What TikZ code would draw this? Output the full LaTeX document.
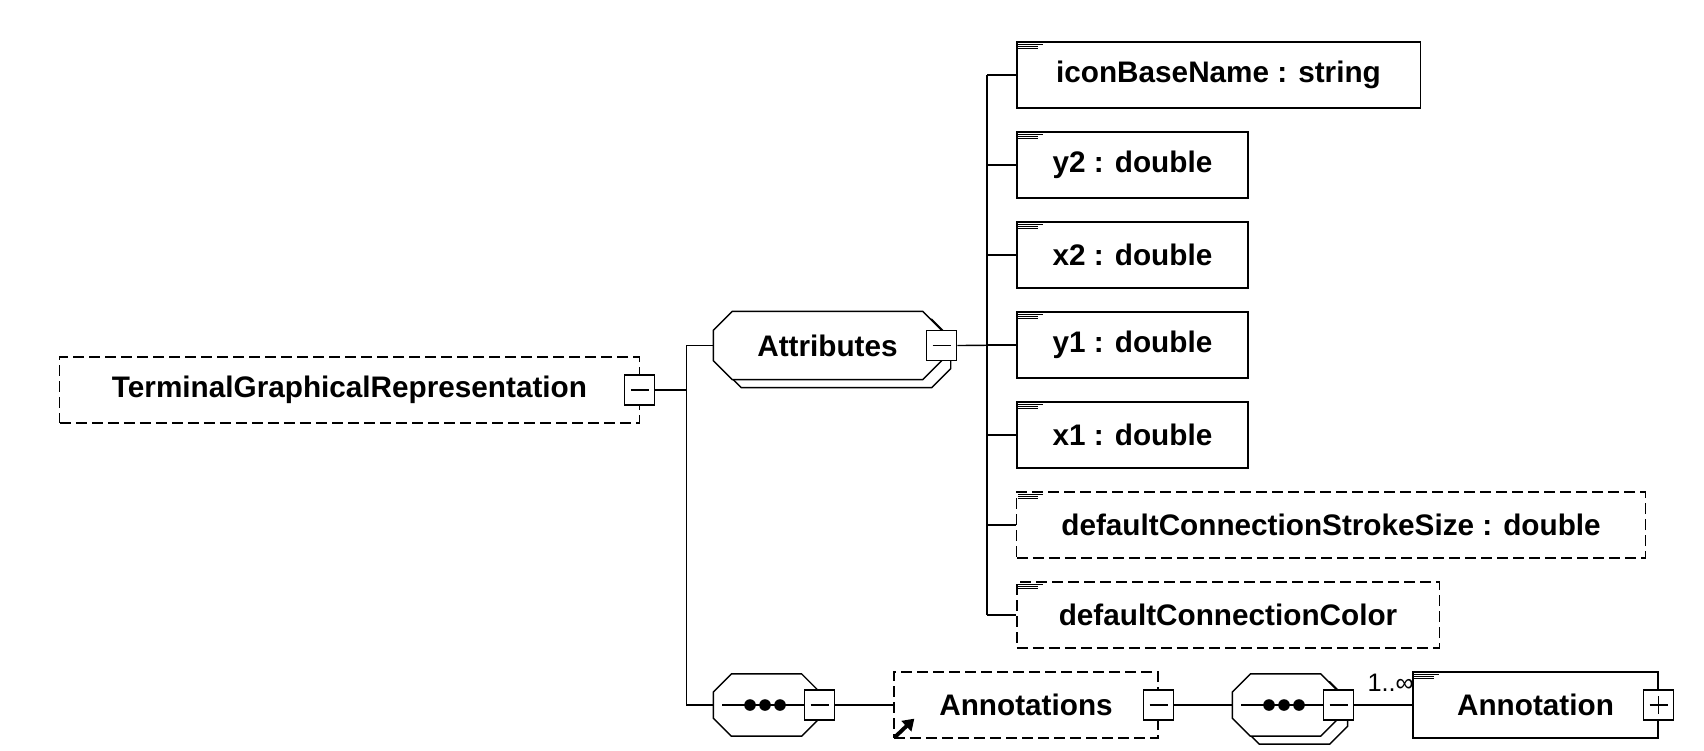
\documentclass[tikz,border=0pt]{standalone}
\usepackage{fontspec}
\setmainfont{Liberation Sans}
\usetikzlibrary{backgrounds,arrows.meta}

\newcommand\lblfont{\fontsize{8.45pt}{10pt}\selectfont\bfseries}
% octagon round a node: {node}{chamfer}{x offset}{y offset}
\newcommand\octa[4]{%
 \draw[fill=white] ([shift={(#3+#2,#4)}]#1.north west) -- ([shift={(#3-#2,#4)}]#1.north east)
  -- ([shift={(#3,#4-#2)}]#1.north east) -- ([shift={(#3,#4+#2)}]#1.south east)
  -- ([shift={(#3-#2,#4)}]#1.south east) -- ([shift={(#3+#2,#4)}]#1.south west)
  -- ([shift={(#3,#4+#2)}]#1.south west) -- ([shift={(#3,#4-#2)}]#1.north west) -- cycle;}

\begin{document}
\begin{tikzpicture}[x=0.01cm,y=-0.01cm,line width=0.35pt,
  box/.style={draw,fill=white,minimum height=0.66cm,inner sep=0pt,font=\lblfont},
  optional/.style={dash pattern=on 0.11cm off 0.05cm},
  doc/.style={path picture={
    \draw[solid,line width=0.25pt] ([shift={(0.01cm,-0.02cm)}]path picture bounding box.north west) -- ++(25,0);
    \draw[solid,line width=0.25pt] ([shift={(0.01cm,-0.04cm)}]path picture bounding box.north west) -- ++(20,0);
    \draw[solid,line width=0.25pt] ([shift={(0.01cm,-0.06cm)}]path picture bounding box.north west) -- ++(20,0);}},
  group/.style={rectangle,minimum height=0.61cm,inner sep=0pt,font=\lblfont},
  btn/.style={draw,fill=white,solid,minimum size=0.3cm,inner sep=0pt,
    path picture={\draw ([xshift=0.06cm]path picture bounding box.west) -- ([xshift=-0.06cm]path picture bounding box.east);}},
  btnplus/.style={draw,fill=white,solid,minimum size=0.3cm,inner sep=0pt,
    path picture={\draw ([xshift=0.06cm]path picture bounding box.west) -- ([xshift=-0.06cm]path picture bounding box.east);
      \draw ([yshift=0.06cm]path picture bounding box.south) -- ([yshift=-0.06cm]path picture bounding box.north);}},
]
 \useasboundingbox (0,0) rectangle (1704,750);

 % root element
 \node[box,optional,minimum width=5.79cm] (tgr) at (349.5,390) {TerminalGraphicalRepresentation};
 \node[btn] (tgrbtn) at (tgr.east) {};

 % attribute group
 \node[group,minimum width=2.27cm,minimum height=0.67cm] (attr) at (827.5,345.5) {Attributes};
 \node[btn] (attrbtn) at (attr.east) {};

 \node[box,doc,minimum width=4.03cm] (icon) at (1218.5,75) {iconBaseName : string};
 \foreach \n/\y in {y2/165,x2/255,y1/345,x1/435}
  \node[box,doc,minimum width=2.31cm] (\n) at (1132.5,\y) {\n{} : double};
 \node[box,doc,optional,minimum width=6.28cm] (dcss) at (1331,525) {defaultConnectionStrokeSize : double};
 \node[box,doc,optional,minimum width=4.22cm] (dcc) at (1228,615) {defaultConnectionColor};

 % sequence -> Annotations -> sequence -> Annotation
 \node[group,minimum width=1.05cm] (seqA) at (766.5,705) {};
 \node[btn] (seqAbtn) at (seqA.east) {};
 \node[box,optional,minimum width=2.64cm] (annots) at (1026,705) {Annotations};
 \node[btn] (annotsbtn) at (annots.east) {};
 \node[group,minimum width=1.05cm] (seqB) at (1285.5,705) {};
 \node[btn] (seqBbtn) at (seqB.east) {};
 \node[box,doc,minimum width=2.45cm] (annot) at (1535.5,705) {Annotation};
 \node[btnplus] (annotbtn) at (annot.east) {};
 \node[anchor=north east,inner sep=0pt,font=\fontsize{7.2pt}{8pt}\selectfont] (mult) at ([shift={(0.02cm,-0.02cm)}]annot.north west) {1..∞};

 \begin{pgfonlayer}{background}
  \octa{attr}{0.19cm}{0.09cm}{-0.08cm}
  \octa{attr}{0.19cm}{0cm}{0cm}
  \octa{seqA}{0.18cm}{0cm}{0cm}
  \octa{seqB}{0.18cm}{0.09cm}{-0.08cm}
  \octa{seqB}{0.18cm}{0cm}{0cm}
 \end{pgfonlayer}

 % sequence symbols
 \foreach \s in {seqA,seqB}{
  \draw ([xshift=0.09cm]\s.west) -- (\s btn.west);
  \foreach \d in {-15,0,15}
   \fill ([xshift=\d*0.01cm-0.015cm]\s.center) circle (0.058cm);
 }
 \draw[line width=1.1pt,-{Triangle[length=0.11cm,width=0.14cm]}] ([shift={(0.01cm,0.01cm)}]annots.south west) -- ++(20,-19); %reference

 % connectors
 \draw (tgrbtn.east) -- ++(31,0) coordinate (trunk);
 \draw (attr.west) -| (trunk) |- (seqA.west);
 \draw (attrbtn.east) -- (y1.west);
 \coordinate (atrunk) at (987,345);
 \foreach \n in {icon,y2,x2,y1,x1,dcss,dcc}
  \draw (\n.west) -- (\n.west -| atrunk);
 \draw (icon.west -| atrunk) -- (dcc.west -| atrunk);
 \draw (seqAbtn.east) -- (annots.west);
 \draw (annotsbtn.east) -- (seqB.west);
 \draw (seqBbtn.east) -- (annot.west);
\end{tikzpicture}
\end{document}
